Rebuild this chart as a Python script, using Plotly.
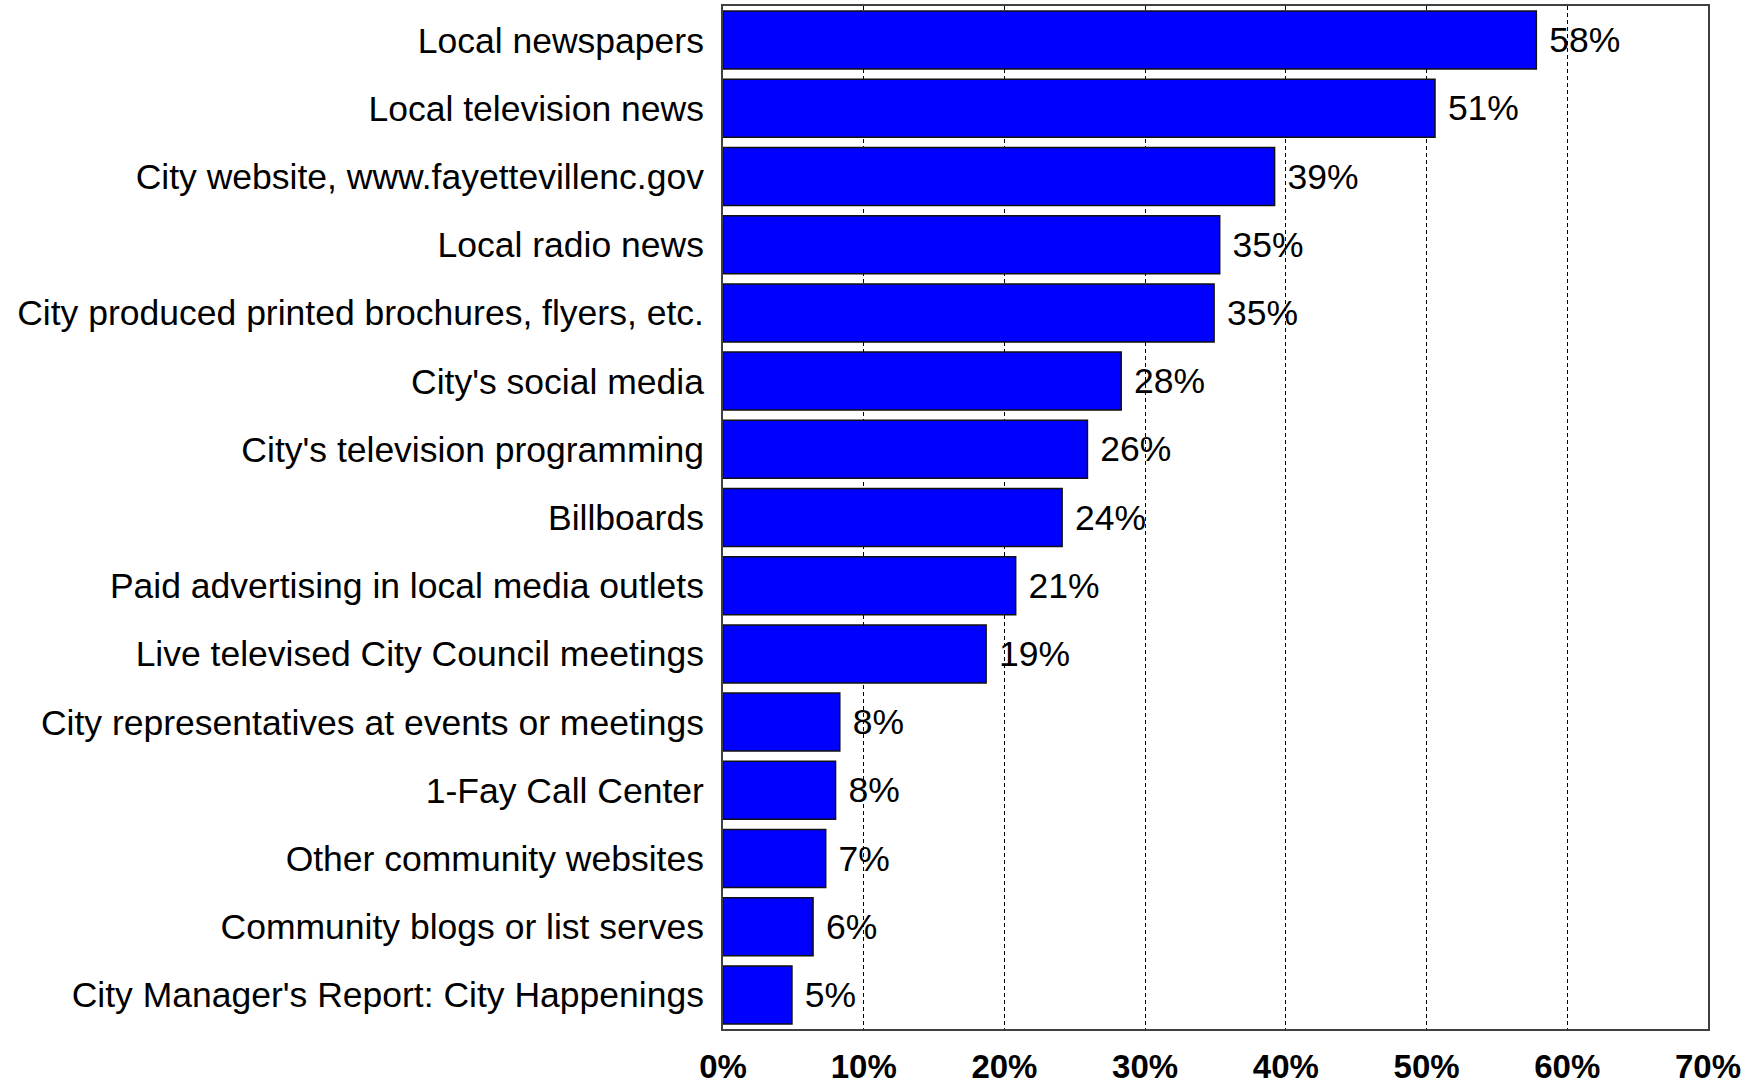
import plotly.graph_objects as go

categories = [
    "Local newspapers",
    "Local television news",
    "City website, www.fayettevillenc.gov",
    "Local radio news",
    "City produced printed brochures, flyers, etc.",
    "City's social media",
    "City's television programming",
    "Billboards",
    "Paid advertising in local media outlets",
    "Live televised City Council meetings",
    "City representatives at events or meetings",
    "1-Fay Call Center",
    "Other community websites",
    "Community blogs or list serves",
    "City Manager's Report: City Happenings",
]
values = [57.8, 50.6, 39.2, 35.3, 34.9, 28.3, 25.9, 24.1, 20.8, 18.7, 8.3, 8.0, 7.3, 6.4, 4.9]
x_ticks = [0, 10, 20, 30, 40, 50, 60, 70]

FONT = "Arial, Liberation Sans, sans-serif"

fig = go.Figure(
    go.Bar(
        y=categories,
        x=values,
        orientation="h",
        marker=dict(color="#0000FF", line=dict(color="#111111", width=1.5)),
        text=[f"\u00a0{round(v)}%" for v in values],
        textposition="outside",
        cliponaxis=False,
        textfont=dict(family=FONT, size=35.5, color="black"),
        hoverinfo="skip",
    )
)

fig.update_layout(
    width=1752,
    height=1084,
    margin=dict(l=723, r=44, t=6, b=55),
    paper_bgcolor="white",
    plot_bgcolor="white",
    bargap=0.15,
    showlegend=False,
    font=dict(family=FONT, color="black"),
)

fig.update_xaxes(
    range=[0, 70],
    tickvals=x_ticks,
    ticktext=[f"{t}%" for t in x_ticks],
    tickfont=dict(family=FONT, size=33, color="black", weight="bold"),
    ticks="",
    ticklabelstandoff=7,
    automargin=False,
    showgrid=True,
    gridcolor="black",
    gridwidth=1,
    griddash="4px,3px",
    showline=True,
    linecolor="#404040",
    linewidth=2,
    mirror=True,
    zeroline=False,
)

fig.update_yaxes(
    autorange="reversed",
    tickfont=dict(family=FONT, size=35.5, color="black"),
    ticks="",
    ticklabelstandoff=10,
    automargin=False,
    showline=True,
    linecolor="#404040",
    linewidth=2,
    mirror=True,
    showgrid=False,
)

fig.write_html(
    "out.html",
    config={"displayModeBar": False},
    post_script="document.body.style.margin='0';document.body.style.overflow='hidden';",
)
